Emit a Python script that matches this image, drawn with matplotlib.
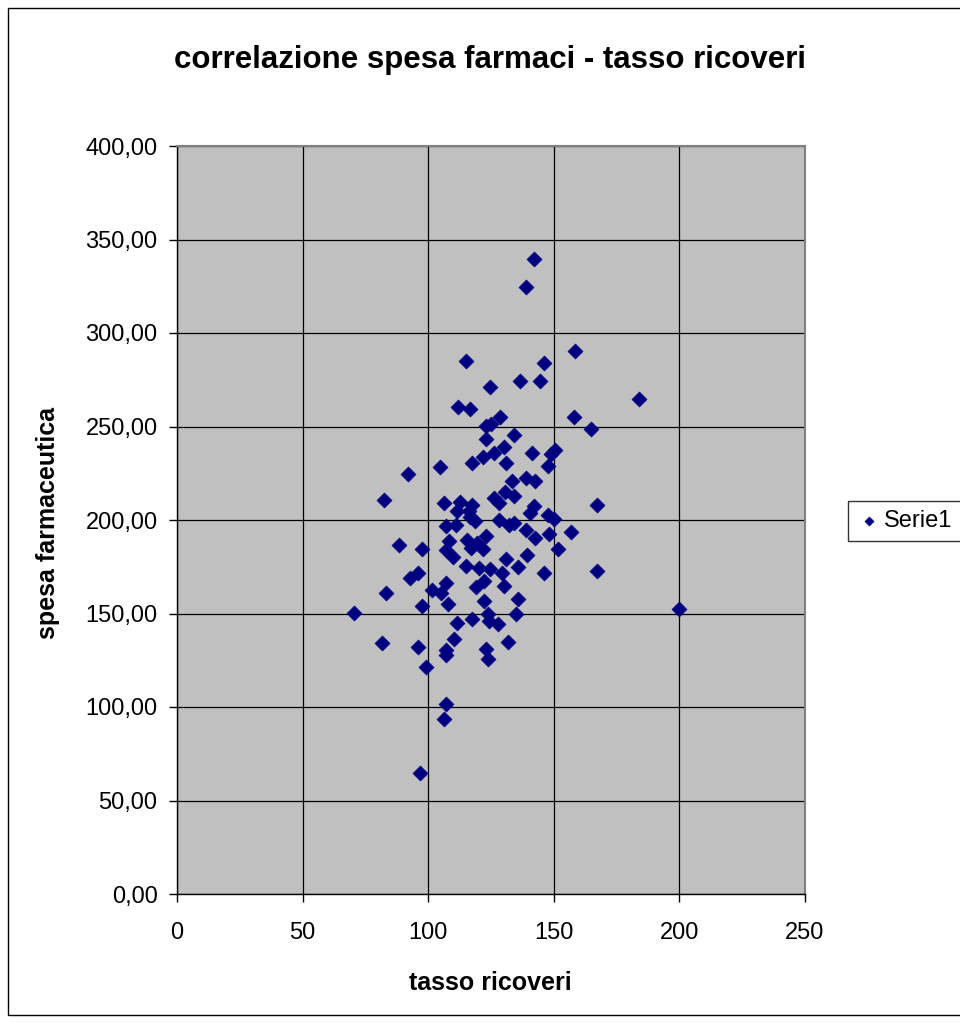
import matplotlib
matplotlib.use("Agg")
import matplotlib.pyplot as plt
from matplotlib.patches import Rectangle
from matplotlib.ticker import FuncFormatter, MultipleLocator

plt.rcParams['font.family'] = ['Liberation Sans', 'DejaVu Sans']

tasso_ricoveri = [
    142.1, 138.8, 158.6, 115.0, 146.0, 136.5, 144.4, 124.5, 184.1, 111.8,
    116.5, 128.6, 157.9, 123.1, 124.9, 164.9, 134.1, 122.9, 130.2, 141.3,
    126.1, 121.9, 148.7, 150.4, 117.5, 130.8, 104.6, 147.5, 92.0, 133.5,
    138.8, 142.7, 130.6, 126.2, 134.1, 128.2, 106.2, 112.6, 117.3, 111.5,
    116.3, 142.0, 140.7, 147.6, 150.0, 128.2, 116.8, 118.7, 134.1, 132.1,
    107.0, 111.0, 138.8, 148.2, 142.7, 122.9, 108.1, 115.6, 119.6, 97.7,
    107.0, 116.9, 121.9, 88.2, 109.7, 130.8, 139.5, 151.5, 115.0, 120.2,
    124.5, 135.6, 146.0, 129.5, 95.8, 92.8, 122.2, 107.0, 118.9, 130.2,
    101.4, 104.9, 135.7, 97.5, 107.8, 122.2, 123.7, 134.8, 117.3, 111.6,
    124.2, 127.6, 110.3, 131.7, 95.9, 107.0, 107.0, 122.9, 123.7, 99.1,
    107.0, 106.2, 96.7, 70.6, 81.6, 83.2, 82.5, 157.0, 167.3, 167.3,
    199.9,
]
spesa_farmaceutica = [
    339.7, 324.8, 290.5, 285.0, 284.0, 274.5, 274.5, 271.3, 264.9, 260.6,
    259.5, 255.2, 255.2, 250.3, 251.3, 248.8, 245.6, 243.5, 239.2, 236.0,
    236.0, 233.8, 235.3, 237.4, 230.6, 230.6, 228.2, 228.9, 224.5, 221.0,
    222.4, 221.0, 215.0, 212.0, 212.8, 208.9, 209.2, 209.6, 208.2, 205.0,
    205.0, 207.5, 203.6, 202.8, 200.4, 200.0, 201.4, 199.6, 198.6, 197.2,
    196.8, 197.5, 194.7, 192.5, 190.4, 191.4, 188.6, 189.3, 187.9, 184.6,
    184.0, 185.0, 184.6, 186.7, 180.4, 179.3, 181.5, 184.6, 175.4, 174.3,
    173.9, 175.0, 171.8, 171.8, 171.8, 168.8, 167.5, 166.5, 164.2, 164.7,
    162.6, 161.1, 157.9, 153.8, 155.1, 156.8, 150.0, 149.7, 147.2, 145.1,
    146.1, 144.4, 136.5, 134.8, 132.3, 130.5, 127.8, 131.2, 125.5, 121.5,
    101.5, 93.7, 64.9, 150.4, 134.4, 161.1, 210.5, 193.4, 208.2, 172.9,
    152.5,
]

title = "correlazione spesa farmaci - tasso ricoveri"
xlabel = "tasso ricoveri"
ylabel = "spesa farmaceutica"
series_name = "Serie1"

W, H = 960, 1023
fig = plt.figure(figsize=(W / 100, H / 100), dpi=100)
fig.patch.set_facecolor('white')

# outer chart border
fig.add_artist(Rectangle((8 / W, 1 - 1015 / H), (W + 20) / W, (1015 - 8) / H,
                         transform=fig.transFigure, fill=False,
                         edgecolor='black', linewidth=1.0))

ax = fig.add_axes([177 / W, 1 - 894 / H, (805 - 177) / W, (894 - 146) / H])
ax.set_facecolor('#C0C0C0')
ax.set_xlim(0, 250)
ax.set_ylim(0, 400)
ax.xaxis.set_major_locator(MultipleLocator(50))
ax.yaxis.set_major_locator(MultipleLocator(50))
ax.yaxis.set_major_formatter(FuncFormatter(lambda v, p: f"{v:.2f}".replace('.', ',')))
ax.grid(True, color='black', linewidth=0.9)
ax.set_axisbelow(True)

for s in ['top', 'right']:
    ax.spines[s].set_color('#808080')
    ax.spines[s].set_linewidth(1.5)
for s in ['left', 'bottom']:
    ax.spines[s].set_color('black')
    ax.spines[s].set_linewidth(1.0)

ax.tick_params(axis='both', direction='out', length=6, width=1, labelsize=17,
               colors='black')
ax.tick_params(axis='x', pad=14)
ax.tick_params(axis='y', pad=8)

ax.scatter(tasso_ricoveri, spesa_farmaceutica, marker='D', s=58,
           color='#000080', edgecolors='#000080', linewidths=0.5,
           label=series_name, zorder=3)

fig.text(490 / W, 1 - 60 / H, title, ha='center', va='center',
         fontsize=22.5, fontweight='bold')
fig.text(490 / W, 1 - 983 / H, xlabel, ha='center', va='center',
         fontsize=18, fontweight='bold')
fig.text(48 / W, 1 - 523 / H, ylabel, ha='center', va='center',
         fontsize=18, fontweight='bold', rotation=90)

leg = ax.legend(loc='center left', bbox_to_anchor=(848 / W, 1 - 521 / H),
                bbox_transform=fig.transFigure, frameon=True, fancybox=False,
                edgecolor='black', fontsize=17, markerscale=0.6,
                handletextpad=0.1, handlelength=1.0, borderpad=0.4,
                borderaxespad=0)
leg.get_frame().set_linewidth(1.0)

fig.savefig('out.png', dpi=100, facecolor='white')
